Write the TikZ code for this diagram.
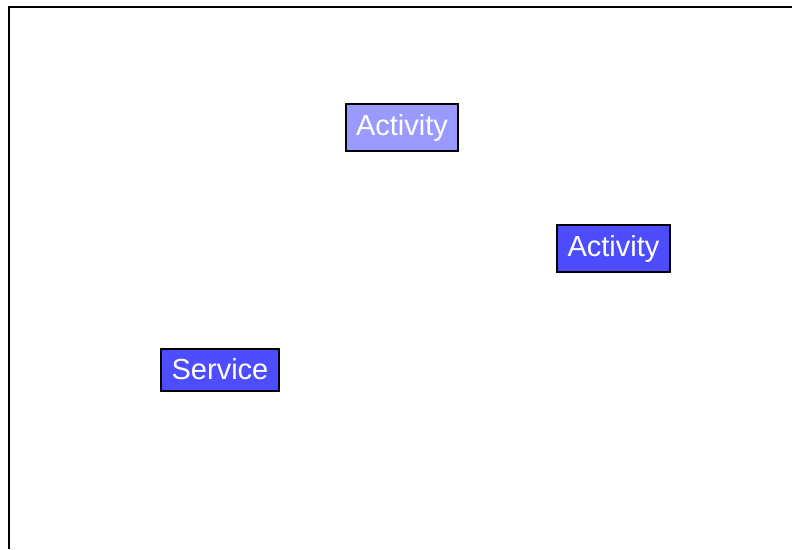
\documentclass[tikz,border=0pt]{standalone}
\usepackage{fontspec}
\setmainfont{Liberation Sans}
\definecolor{lightblock}{HTML}{9999FF}
\definecolor{darkblock}{HTML}{4D4DFF}
\begin{document}
\begin{tikzpicture}[x=1pt,y=-1pt,
  block/.style={draw=black,line width=2pt,text=white,inner sep=0pt,
    font=\fontsize{29}{29}\selectfont,anchor=center}]
\useasboundingbox (0,0) rectangle (792,549);
% outer frame (left and top edges)
\draw[line width=2pt] (9,549) -- (9,7) -- (792,7);
% blocks
\node[block,fill=lightblock,minimum width=112pt,minimum height=47pt] (act1) at (402,127.5) {Activity};
\node[block,fill=darkblock,minimum width=113pt,minimum height=47pt] (act2) at (613.5,248.5) {Activity};
\node[block,fill=darkblock,minimum width=118pt,minimum height=42pt] (serv) at (220,369.5) {Service};
\end{tikzpicture}
\end{document}
